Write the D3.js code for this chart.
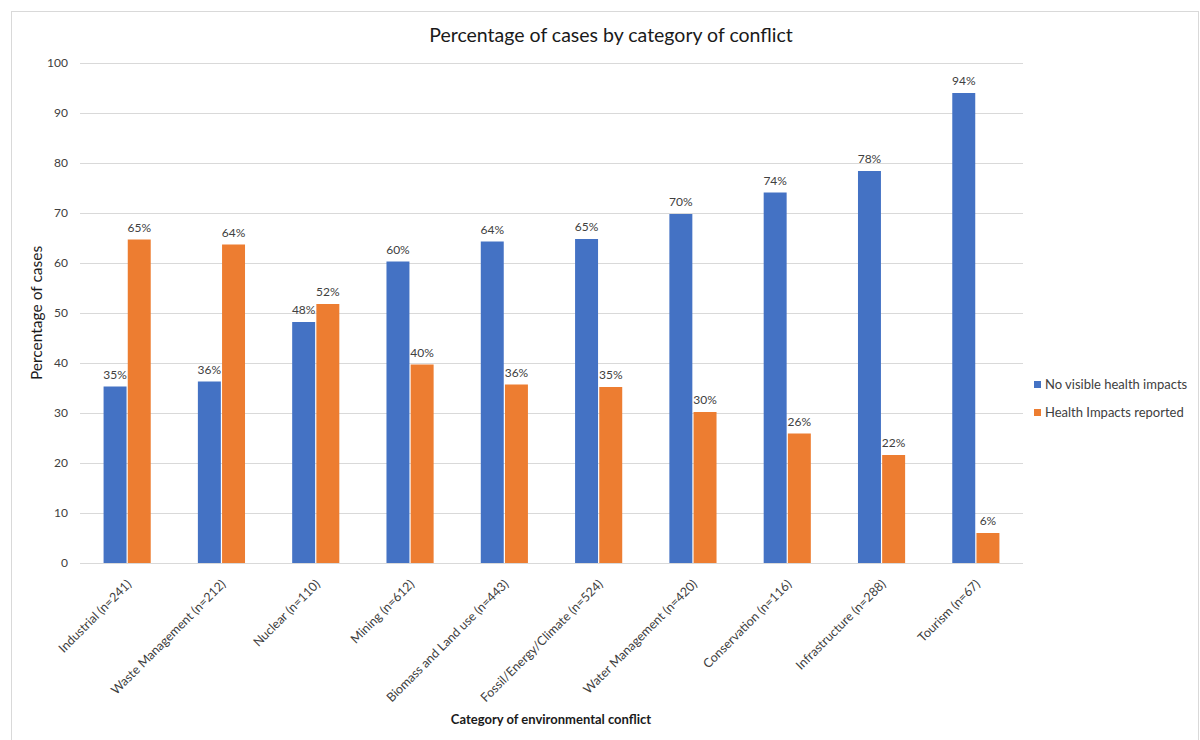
<!DOCTYPE html>
<html lang="en">
<head>
<meta charset="UTF-8">
<title>Percentage of cases by category of conflict</title>
<style>
  body { margin: 0; background: #fff; }
  svg { display: block; font-family: Lato, "Open Sans", sans-serif; }
</style>
</head>
<body>
<svg></svg>
<script src="https://d3js.org/d3.v7.min.js"></script>
<script>
var categories = ['Industrial (n=241)', 'Waste Management (n=212)', 'Nuclear (n=110)', 'Mining (n=612)',
  'Biomass and Land use (n=443)', 'Fossil/Energy/Climate (n=524)', 'Water Management (n=420)',
  'Conservation (n=116)', 'Infrastructure (n=288)', 'Tourism (n=67)'];
var noImpacts = [35.3, 36.3, 48.2, 60.3, 64.3, 64.8, 69.8, 74.1, 78.4, 94.0];
var impactsReported = [64.7, 63.7, 51.8, 39.7, 35.7, 35.2, 30.2, 25.9, 21.6, 6.0];
var seriesNames = ['No visible health impacts', 'Health Impacts reported'];
var colors = ['#4472c4', '#ed7d31'];
var yTicks = [0, 10, 20, 30, 40, 50, 60, 70, 80, 90, 100];

var width = 1200, height = 740;
var margin = {left: 80, right: 177, top: 63, bottom: 177};

var svg = d3.select('svg').attr('width', width).attr('height', height);

// chart border
svg.append('rect')
  .attr('x', 11.5).attr('y', 11.5)
  .attr('width', 1187).attr('height', 740)
  .attr('fill', 'none').attr('stroke', '#d9d9d9');

var x = d3.scaleBand().domain(categories)
  .range([margin.left, width - margin.right]).paddingInner(0.5).paddingOuter(0.25);
var x1 = d3.scaleBand().domain([0, 1]).range([0, x.bandwidth()]).paddingInner(0.05);
var y = d3.scaleLinear().domain([0, 100]).range([height - margin.bottom, margin.top]);

// gridlines
svg.append('g').selectAll('line').data(yTicks).join('line')
  .attr('x1', margin.left).attr('x2', width - margin.right)
  .attr('y1', d => y(d) + 0.5).attr('y2', d => y(d) + 0.5)
  .attr('stroke', '#d9d9d9').attr('stroke-width', 1);

// y axis
var yAxis = svg.append('g')
  .attr('transform', 'translate(' + margin.left + ',0)')
  .call(d3.axisLeft(y).tickValues(yTicks).tickSize(0).tickPadding(12));
yAxis.select('.domain').remove();
yAxis.selectAll('text').attr('font-size', 12).attr('fill', '#404040')
  .attr('font-family', 'Lato, sans-serif');

// bars
var rows = categories.map((c, i) => ({cat: c, vals: [noImpacts[i], impactsReported[i]]}));
var groups = svg.append('g').selectAll('g').data(rows).join('g')
  .attr('transform', d => 'translate(' + x(d.cat) + ',0)');

groups.selectAll('rect').data(d => d.vals.map((v, k) => ({v: v, k: k}))).join('rect')
  .attr('x', d => x1(d.k))
  .attr('width', x1.bandwidth())
  .attr('y', d => y(d.v))
  .attr('height', d => y(0) - y(d.v))
  .attr('fill', d => colors[d.k]);

groups.selectAll('text').data(d => d.vals.map((v, k) => ({v: v, k: k}))).join('text')
  .attr('x', d => x1(d.k) + x1.bandwidth() / 2)
  .attr('y', d => y(d.v) - 8)
  .attr('text-anchor', 'middle')
  .attr('font-size', 12)
  .attr('fill', '#404040')
  .text(d => Math.round(d.v) + '%');

// x axis labels
var xAxis = svg.append('g')
  .attr('transform', 'translate(0,' + y(0) + ')')
  .call(d3.axisBottom(x).tickSize(0).tickPadding(0));
xAxis.select('.domain').remove();
xAxis.selectAll('text')
  .attr('font-size', 12.5).attr('fill', '#404040')
  .attr('font-family', 'Lato, sans-serif')
  .attr('text-anchor', 'end')
  .attr('dy', 0)
  .attr('transform', 'translate(5,22) rotate(-45)');

// titles
svg.append('text')
  .attr('x', 611).attr('y', 42)
  .attr('text-anchor', 'middle').attr('font-size', 19.5).attr('fill', '#1a1a1a')
  .text('Percentage of cases by category of conflict');

svg.append('text')
  .attr('transform', 'translate(42,' + (y(50)) + ') rotate(-90)')
  .attr('text-anchor', 'middle').attr('font-size', 15.5).attr('fill', '#1a1a1a')
  .text('Percentage of cases');

svg.append('text')
  .attr('x', 551).attr('y', 724)
  .attr('text-anchor', 'middle').attr('font-size', 13).attr('font-weight', 'bold').attr('fill', '#1a1a1a')
  .text('Category of environmental conflict');

// legend
var legend = svg.append('g').selectAll('g').data(seriesNames).join('g')
  .attr('transform', (d, i) => 'translate(1034,' + (385 + i * 28) + ')');
legend.append('rect').attr('x', 0).attr('y', -4).attr('width', 7).attr('height', 7)
  .attr('fill', (d, i) => colors[i]);
legend.append('text').attr('x', 11).attr('y', 4)
  .attr('font-size', 13).attr('fill', '#404040')
  .text(d => d);
</script>
</body>
</html>
